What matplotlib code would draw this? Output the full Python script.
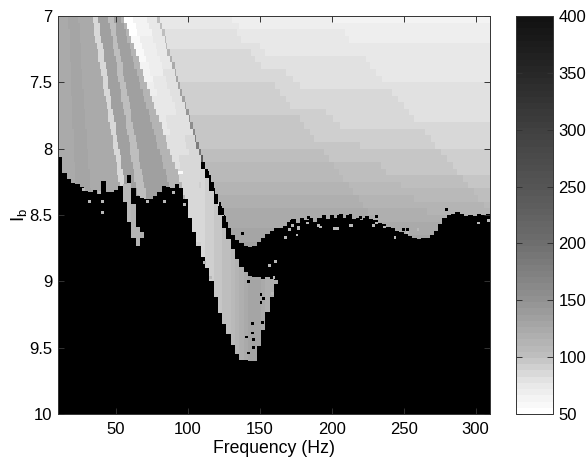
import numpy as np
import matplotlib
matplotlib.use("Agg")
import matplotlib.pyplot as plt
from matplotlib.colors import LinearSegmentedColormap

plt.rcParams['font.family'] = ['Liberation Sans', 'DejaVu Sans']
plt.rcParams['mathtext.default'] = 'regular'

BLACK = 999.0
x_ticks = [50, 100, 150, 200, 250, 300]
y_ticks = [7, 7.5, 8, 8.5, 9, 9.5, 10]
y_tick_labels = ['7', '7.5', '8', '8.5', '9', '9.5', '10']
cbar_ticks = [50, 100, 150, 200, 250, 300, 350, 400]
cbar_values = [50, 75, 100, 150, 200, 250, 300, 350, 400]
cbar_grays = [255, 230, 190, 145, 110, 85, 65, 40, 18]

# Fan of strips on the left: edge frequency for each row of 0.05 in Ib, from Ib = 7
e_a = [17,17,17.5,17.5,18,18,18,18.5,18.5,19,19,19,19.5,19.5,20,20,20,20.5,20.5,21,21,21,21.5,21.5,22,22,22,22.5]
e_b = [24,24.5,24.5,25,25.5,25.5,26,26,26.5,27,27,27.5,28,28,28.5,29,29,29.5,30,30,30.5,30.5,31,31.5,31.5,32,32.5,32.5]
e_c = [33.5,34.5,35,36,36.5,37.5,38,39,39.5,40.5,41,42,43,43.5,44.5,45,46,46.5,47.5,48,49,50,50.5,51,52,52.5,53.5,54]
e_d = [38,38.5,39,40,40.5,41.5,42,43,43.5,44.5,45,46,46.5,47,48,48.5,49.5,50,51,51.5,52.5,53.5,54,54.5,55.5,56,57,57.5]
e_e = [45,46,46.5,47.5,48,49,49.5,50.5,51,52,52.5,53.5,54,55,55.5,56.5,57,58,58.5,59.5,60,61,61.5,62.5,63,64,65,65.5]
e_f = [48.5,49.5,50,51,52,52.5,53.5,54.5,55,56,57,57.5,58.5,59.5,60.5,61,62,63,63.5,64.5,65.5,66,67,68,68.5,69.5,70.5,71]
e_g = [51,52,53,54,54.5,55.5,56.5,57.5,58.5,59.5,60,61,62,63,64,65,65.5,66.5,67.5,68.5,69.5,70.5,71,72,73,74,75,76]
e_h = [54,55.5,56.5,58,59.5,60.5,62,63,64.5,66,67,68.5,70,71,72.5,74,75,76.5,78,79,80.5,81.5,83,84.5,85.5,87,88.5,89.5]
e_i = [56.5,58,59.5,61,63,64.5,66,67.5,69,70.5,72,74,75.5,77,78.5,80,82,83.5,85,86.5,88,89.5,91,93,94.5,96,97,98]
fan_values = [122, 128, 122, 86, 135, 100, 137, 135, 112]

# Light zone and terraces on the right: edges and values for each row
e_j = [62,63.5,65,66.5,68,69.5,71,72.5,74,75.5,77,78.5,80,81.5,83,84.5,86,87.5,89,90.5,92,93.5,95,96.5,98,99.5,101,102.5,104,105.5,107,108.5,110,111.5,113]
e_k = [71.5,73,74.5,76,77.5,79,80.5,82,83,84.5,86,87.5,89,90.5,92,93,95,96,97.5,99,100.5,102,103.5,105,106.5,108,109.5,111,112,114,115,117,118,120,121]
e_line = [79.5,81,82.5,84,85,86.5,88,89.5,91,92,93.5,95,96.5,98,99.5,101,102.5,104,105,106.5,108,109.5,111,112.5,114.5,116,118,120,122,123.5,125,126.5,129,131.5,135]
d_1 = [127,130,134,137,140,144,147,150.5,154,157,161,164,167.5,171,174,178,181,184.5,188,191,195,198,201.5,205,208,212,215,218.5,222,225,229,232,235.5,239,242]
d_3 = [131,136,140,145,150,154,159,164,168,173,178,182,187,192,196,201,206,210,215,220,224,229,234,238,243,248,252,257,262,266,271,276,280,285,290]
d_2 = [201,205,208.5,212,216,220,223.5,227,231,235,238.5,242,246,250,253.5,257,261,265,268.5,272,276,280,283.5,287,291,295,298.5,302,306,310,312,312,312,312,312]

v_j = [54,54,55,56,57,58,60,62,64,66,68,70,72,73,74,75,76,77,78,79,80,81,82,83,84,84,85,85,86,86,87,87,88,88,89]
v_k = [65,65,66,67,67,68,69,70,71,72,73,74,75,76,77,78,79,79,80,81,82,83,83,84,85,85,86,86,87,87,88,88,89,89,90]
v_l = [74,74,75,75,76,76,77,77,78,78,79,79,80,80,81,81,82,82,83,84,85,86,87,87,88,89,90,90,91,91,92,92,93,93,94]
v_1 = [77,77,79,80,82,84,85,86,87,88,89,90,91,92,93,94,95,96,97,99,100,103,105,108,110,113,115,117,119,122,124,126,128,130,133]
v_3 = [73,74,75,77,78,80,81,82,83,84,85,86,87,88,89,90,91,92,93,94,96,98,100,102,104,106,109,111,114,117,120,123,126,129,133]
v_2 = [70,71,72,74,75,77,78,79,80,81,82,83,84,85,86,87,88,89,90,92,94,95,96,98,100,102,105,108,111,114,117,120,123,126,130]
v_r = [65,67,68,70,72,73,74,75,76,77,78,79,80,81,81,82,83,84,85,87,89,90,92,93,95,97,100,102,105,108,111,114,117,120,124]
v_line = [100,100,103,106,110,114,118,122,125,128,130,133,136,140,144,150,156,164,172,180,190,240,999,999,999,999,999,999,999,999,999,999,999,999,999]

# Start of the black region in each 3 Hz column, from 10 Hz
black_top = [8.06,8.18,8.23,8.26,8.27,8.29,8.32,8.33,8.31,8.34,8.24,8.33,8.33,8.31,8.28,8.27,8.20,8.30,8.36,8.37,
             8.38,8.38,8.36,8.33,8.28,8.29,8.30,8.27,8.30,8.38,8.52,8.63,8.73,
             8.10,8.17,8.25,8.34,8.43,8.51,8.60,8.65,8.69,8.71,8.73,8.74,8.73,8.70,8.67,8.64,8.62,8.60,
             8.60,8.58,8.55,8.53,8.56,8.52,8.54,8.52,8.55,8.52,8.50,8.53,8.50,8.52,8.49,8.52,8.51,8.53,8.52,8.54,
             8.51,8.53,8.54,8.56,8.57,8.59,8.60,8.62,8.63,8.64,8.66,8.67,8.68,8.67,8.67,8.65,8.62,8.57,8.52,8.50,
             8.49,8.48,8.49,8.51,8.50,8.51,8.49,8.50,8.49]

# Grey pockets inside the black region
hole_freq = [56.5,59.5,62.5,65.5,68.5,110.5,113.5,116.5,119.5,122.5,125.5,128.5,131.5,134.5,137.5,140.5,143.5,146.5,149.5,152.5,155.5,158.5,161.5]
hole_top = [8.27,8.26,8.42,8.59,8.63,8.15,8.22,8.32,8.42,8.50,8.60,8.68,8.76,8.83,8.89,8.93,8.96,8.97,8.97,8.98,8.97,8.98,8.99]
hole_bottom = [8.40,8.55,8.67,8.73,8.67,8.82,8.90,9.00,9.12,9.24,9.32,9.40,9.48,9.55,9.59,9.59,9.60,9.60,9.49,9.37,9.23,9.12,9.02]
hole_value = [105,108,112,115,118,88,91,93,95,97,100,103,106,112,118,124,130,132,130,125,120,118,116]

# Isolated cells
gray_f = [27.6,32,39,41.5,41.5,71.6,84.3,90,98,167.6,171,176.7,183,192,203.6,214,231.5,237,244,253,260,301.7,308.6,157,160.7,160,159,115.6,112,173,176.7,190.6,202,212.8,228.8,176]
gray_ib = [8.31,8.40,8.33,8.40,8.48,8.40,8.40,8.33,8.42,8.67,8.61,8.59,8.56,8.59,8.60,8.58,8.56,8.59,8.67,8.63,8.61,8.56,8.54,8.88,8.85,8.97,9.09,8.97,8.86,8.58,8.60,8.58,8.60,8.58,8.58,8.65]
dark_f = [207,212.8,219.7,231,280,249.6,253,142,151,152.6,151,144.7,152.4,144.7,140.6,145.6,138.5,142,145.6,172.5,183.6,194,204.6,211,223]
dark_ib = [8.50,8.50,8.52,8.51,8.46,8.61,8.61,9.00,9.10,9.13,9.16,9.32,9.31,9.39,9.42,9.44,8.64,9.54,9.50,8.55,8.52,8.54,8.51,8.51,8.53]
bright_f = [96, 94.5]
bright_ib = [8.18, 8.18]

nx, ny = 300, 300
f = 10 + (np.arange(nx) + 0.5) * 300 / nx
ib = 7 + (np.arange(ny) + 0.5) * 3 / ny
Z = np.full((ny, nx), BLACK)

for n in range(len(e_j)):
    rows = (ib >= 7 + 0.05 * n) & (ib < 7 + 0.05 * (n + 1))
    edges = [e_j[n], e_k[n], e_line[n], d_1[n], d_3[n], d_2[n]]
    vals = np.array([v_j[n], v_k[n], v_l[n], v_1[n], v_3[n], v_2[n], v_r[n]])
    line = vals[np.searchsorted(edges, f)]
    line[(f >= e_line[n]) & (f < e_line[n] + 1.5)] = v_line[n]
    Z[rows, :] = line

for n in range(len(e_a)):
    rows = np.where((ib >= 7 + 0.05 * n) & (ib < 7 + 0.05 * (n + 1)))[0]
    edges = [e_a[n], e_b[n], e_c[n], e_d[n], e_e[n], e_f[n], e_g[n], e_h[n]]
    cols = f < e_i[n]
    vals = np.array(fan_values)[np.searchsorted(edges, f[cols])]
    for r in rows:
        Z[r, cols] = vals

for k, top in enumerate(black_top):
    cols = (f >= 10 + 3 * k) & (f < 13 + 3 * k)
    Z[np.ix_(ib >= top, cols)] = BLACK

for fc, t, b, v in zip(hole_freq, hole_top, hole_bottom, hole_value):
    cols = (f >= fc - 1.5) & (f < fc + 1.5)
    Z[np.ix_((ib >= t) & (ib < b), cols)] = v


def stamp(fs, ibs, value):
    for fc, i in zip(fs, ibs):
        Z[np.ix_((ib >= i - 0.01) & (ib < i + 0.01), (f >= fc - 1) & (f < fc + 1))] = value


stamp(gray_f, gray_ib, 110)
stamp(dark_f, dark_ib, BLACK)
stamp(bright_f, bright_ib, 58)

cmap = LinearSegmentedColormap.from_list(
    'gr', [((v - 50) / 350, (g / 255,) * 3) for v, g in zip(cbar_values, cbar_grays)], N=64)
cmap.set_over('black')

W, H = 587, 459
fig = plt.figure(figsize=(W / 100, H / 100), dpi=100)
ax = fig.add_axes([58 / W, 1 - 414 / H, 432 / W, 398 / H])
cax = fig.add_axes([516 / W, 1 - 414 / H, 37 / W, 398 / H])

im = ax.imshow(Z, extent=[10, 310, 10, 7], aspect='auto', cmap=cmap, vmin=50, vmax=400,
               interpolation='nearest')
ax.set_xlim(10, 310)
ax.set_ylim(10, 7)
ax.set_xticks(x_ticks)
ax.set_yticks(y_ticks)
ax.set_yticklabels(y_tick_labels)
ax.tick_params(direction='in', length=4, width=0.7, labelsize=12, top=True, right=True,
               color='#333333')
ax.tick_params(axis='x', pad=6)
ax.tick_params(axis='y', pad=4)
ax.set_xlabel('Frequency (Hz)', fontsize=12.7, labelpad=2)
ax.set_ylabel('I$_{b}$', fontsize=13.5, labelpad=0)
for s in ax.spines.values():
    s.set_linewidth(0.7)
    s.set_color('#333333')

cb = fig.colorbar(im, cax=cax, ticks=cbar_ticks)
cax.tick_params(direction='in', length=4, width=0.7, labelsize=12, left=True, right=True,
                color='#333333', pad=4)
cb.outline.set_linewidth(0.7)
cb.outline.set_edgecolor('#333333')

fig.savefig('out.png', dpi=100)
